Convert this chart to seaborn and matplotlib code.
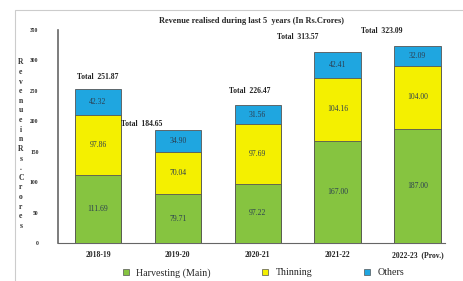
import matplotlib
matplotlib.use("Agg")
import matplotlib.pyplot as plt
import seaborn as sns
import pandas as pd
from matplotlib.patches import Rectangle

# --------------------------------------------------
# Data (Rs. Crores)
# --------------------------------------------------
years      = ['2018-19', '2019-20', '2020-21', '2021-22', '2022-23  (Prov.)']
harvesting = [111.69, 79.71, 97.22, 167.00, 187.00]
thinning   = [97.86, 70.04, 97.69, 104.16, 104.00]
others     = [42.32, 34.90, 31.56, 42.41, 32.09]
totals     = [251.87, 184.65, 226.47, 313.57, 323.09]
series     = ['Harvesting (Main)', 'Thinning', 'Others']
colors     = ['#86c440', '#f4f000', '#1fa6e0']

df = pd.DataFrame({
    'year': years,
    'Harvesting (Main)': harvesting,
    'Thinning': thinning,
    'Others': others,
})

sns.set_style('white')
plt.rcParams['font.family'] = ['Liberation Serif', 'DejaVu Serif']

fig = plt.figure(figsize=(4.64, 2.81), dpi=100)
ax = fig.add_axes([0.125, 0.135, 0.835, 0.76])

# stacked bars: cumulative heights, lower layers drawn on top
bottom = [0.0] * len(years)
for k, (name, col) in enumerate(zip(series, colors)):
    vals = df[name].tolist()
    tops = [b + v for b, v in zip(bottom, vals)]
    sns.barplot(x=df['year'], y=tops, color=col, width=0.58,
                saturation=1, edgecolor='#555555', linewidth=0.6,
                ax=ax, legend=False)
    for p in ax.containers[-1]:
        p.set_zorder(3 - k * 0.3)
    for i, (b, v) in enumerate(zip(bottom, vals)):
        ax.text(i, b + v / 2, f'{v:.2f}', ha='center', va='center',
                fontsize=5.5, color='#2c3e50', zorder=5)
    bottom = tops

# total labels
offsets = [(0.0, 14), (-0.45, 4), (-0.1, 16), (-0.5, 18), (-0.45, 18)]
for i, (t, (dx, dy)) in enumerate(zip(totals, offsets)):
    ax.text(i + dx, t + dy, f'Total  {t:.2f}', ha='center', va='bottom',
            fontsize=5.5, fontweight='bold', color='#222222')

ax.set_ylim(0, 350)
ax.set_xlim(-0.5, 4.35)
ax.set_yticks(range(0, 351, 50))
ax.tick_params(axis='y', labelsize=4, length=0, pad=14)
ax.tick_params(axis='x', labelsize=5.5, length=0, pad=6)
for lbl in ax.get_xticklabels():
    lbl.set_fontweight('bold')
for lbl in ax.get_yticklabels():
    lbl.set_fontweight('bold')
ax.set_xlabel('')
ax.set_ylabel('')
sns.despine(ax=ax, top=True, right=True)
ax.spines['left'].set_color('#666666')
ax.spines['bottom'].set_color('#666666')
ax.spines['left'].set_linewidth(1.2)

# stacked-letter y label
ylabel = '\n'.join('Revenue in Rs.Crores'.replace(' ', ''))
fig.text(0.045, 0.487, ylabel, ha='center', va='center', fontsize=5.5,
         fontweight='bold', linespacing=1.27, color='#333333')

ax.set_title('Revenue realised during last 5  years (In Rs.Crores)',
             fontsize=6, fontweight='bold', pad=5)

# legend at bottom
handles = [plt.Line2D([0], [0], marker='s', linestyle='', markersize=5,
                      markerfacecolor=c, markeredgecolor='#555555',
                      markeredgewidth=0.5) for c in colors]
fig.legend(handles, series, loc='lower center', ncol=3, frameon=False,
           fontsize=7.2, bbox_to_anchor=(0.56, -0.02), handletextpad=0.0,
           columnspacing=4.5)

# outer frame
fig.patches.append(Rectangle((0.033, -0.01), 1.0, 0.975,
                             transform=fig.transFigure, fill=False,
                             edgecolor='#cccccc', linewidth=0.8))

plt.savefig('out.png', dpi=100)
